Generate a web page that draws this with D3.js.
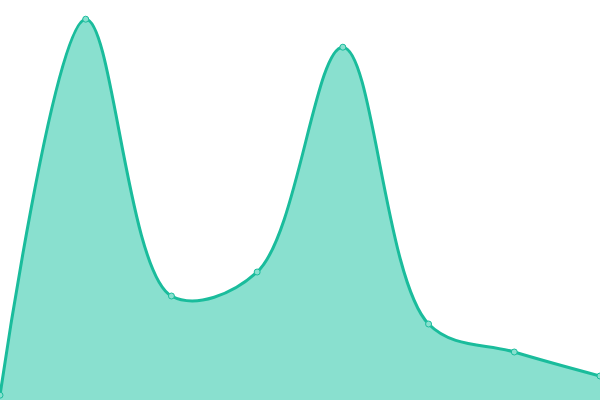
<!DOCTYPE html>
<html>
<head>
<meta charset="utf-8">
<script src="https://cdn.jsdelivr.net/npm/d3@7"></script>
<style>
  html, body { margin: 0; padding: 0; background: #fff; }
  svg { display: block; }
</style>
</head>
<body>
<svg width="600" height="400"></svg>
<script>
// data
const categories = ['A', 'B', 'C', 'D', 'E', 'F', 'G', 'H'];
const values = [1.2, 95.2, 26, 32, 88.2, 19, 12, 6];
const yDomain = [0, 100];

const svg = d3.select('svg');
const width = +svg.attr('width');
const height = +svg.attr('height');

const data = categories.map((c, i) => ({ cat: c, value: values[i] }));

const xScale = d3.scalePoint()
  .domain(categories)
  .range([0, width]);

const yScale = d3.scaleLinear()
  .domain(yDomain)
  .range([height, 0]);

const curve = d3.curveCatmullRom.alpha(0.5);

const area = d3.area()
  .x(d => xScale(d.cat))
  .y0(yScale(0))
  .y1(d => yScale(d.value))
  .curve(curve);

const line = d3.line()
  .x(d => xScale(d.cat))
  .y(d => yScale(d.value))
  .curve(curve);

svg.append('path')
  .datum(data)
  .attr('d', area)
  .attr('fill', '#89e0cf');

svg.append('path')
  .datum(data)
  .attr('d', line)
  .attr('fill', 'none')
  .attr('stroke', '#1abc9c')
  .attr('stroke-width', 3);

svg.selectAll('circle').data(data)
  .enter().append('circle')
    .attr('cx', d => xScale(d.cat))
    .attr('cy', d => yScale(d.value))
    .attr('r', 3)
    .attr('fill', '#89e0cf')
    .attr('stroke', '#1abc9c')
    .attr('stroke-width', 1);
</script>
</body>
</html>
